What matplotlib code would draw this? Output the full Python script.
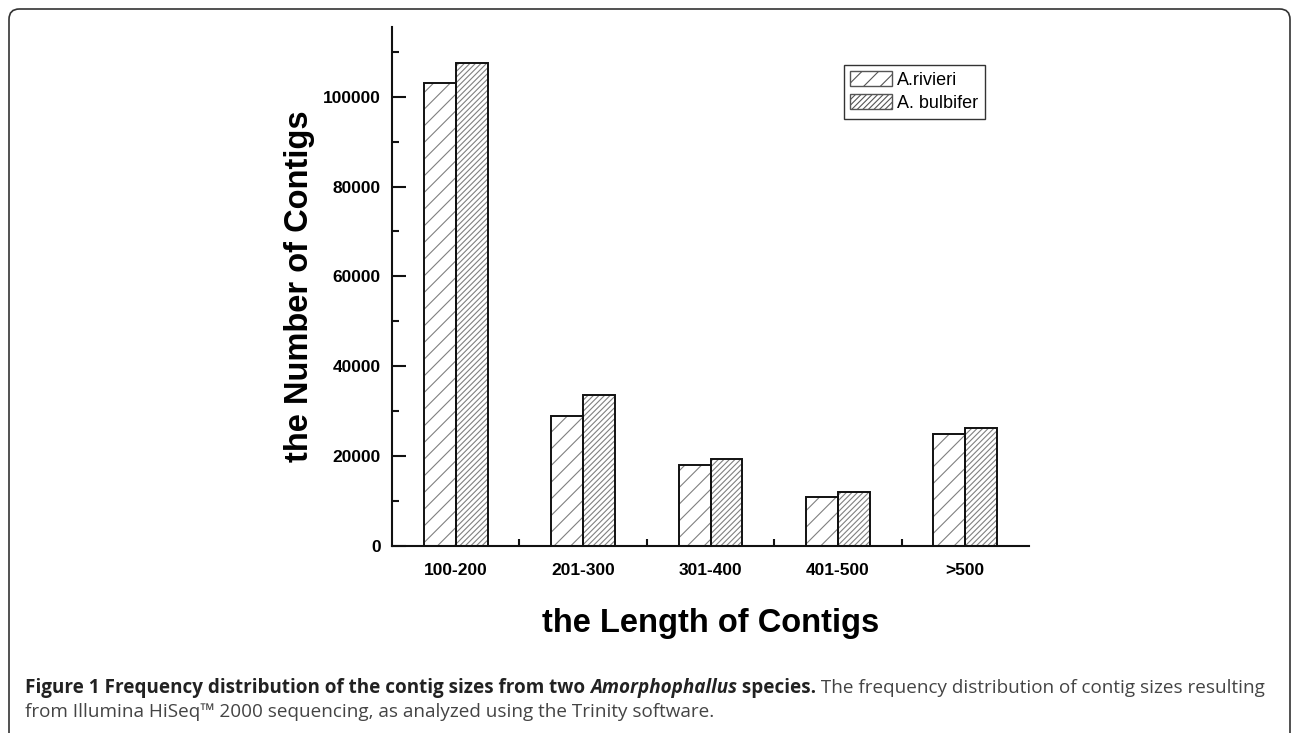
import numpy as np
import matplotlib
matplotlib.use('Agg')
import matplotlib.pyplot as plt
from matplotlib.patches import FancyBboxPatch, Patch

# 数据
categories = ['100-200', '201-300', '301-400', '401-500', '>500']
rivieri = [103000, 29000, 18000, 11000, 25000]
bulbifer = [107500, 33500, 19300, 12000, 26300]
series_names = ['A.rivieri', 'A. bulbifer']

plt.rcParams['font.family'] = ['Liberation Sans', 'DejaVu Sans']
plt.rcParams['hatch.linewidth'] = 0.8

W, H = 1292, 733
fig = plt.figure(figsize=(W / 100, H / 100), dpi=100)

# 外框
frame = FancyBboxPatch((9 / W, -10 / H), (1290 - 9) / W, (733 - 9 + 10) / H,
                       boxstyle='round,pad=0,rounding_size=0.008',
                       transform=fig.transFigure, fill=False,
                       edgecolor='#333333', linewidth=1.2, mutation_aspect=W / H)
fig.add_artist(frame)

ax = fig.add_axes([392 / W, (H - 546) / H, (1029 - 392) / W, (546 - 27) / H])

x = np.arange(len(categories))
w = 0.25
hatch_col = '#808080'
# 先画阴影线，再画黑色边框
ax.bar(x - w / 2, rivieri, w, color='white', edgecolor=hatch_col, hatch='//', linewidth=0)
ax.bar(x + w / 2, bulbifer, w, color='white', edgecolor=hatch_col, hatch='//////', linewidth=0)
ax.bar(x - w / 2, rivieri, w, fill=False, edgecolor='#111111', linewidth=1.4)
ax.bar(x + w / 2, bulbifer, w, fill=False, edgecolor='#111111', linewidth=1.4)

ax.set_xlim(-0.5, 4.5)
ax.set_ylim(0, 115500)
ax.spines['top'].set_visible(False)
ax.spines['right'].set_visible(False)
for s in ['left', 'bottom']:
    ax.spines[s].set_linewidth(1.5)
    ax.spines[s].set_color('#111111')

ax.set_yticks(np.arange(0, 100001, 20000))
ax.set_yticks(np.arange(10000, 110001, 20000), minor=True)
ax.tick_params(axis='y', which='major', direction='in', length=10, width=1.5, pad=8,
               labelsize=12.5, color='#111111')
ax.tick_params(axis='y', which='minor', direction='in', length=5, width=1.5, color='#111111')
for lab in ax.get_yticklabels():
    lab.set_fontweight('bold')

ax.set_xticks(x)
ax.set_xticklabels(categories, fontweight='bold', fontsize=12.5)
ax.set_xticks(np.arange(0.5, 4.0, 1.0), minor=True)
ax.tick_params(axis='x', which='major', length=0, pad=12)
ax.tick_params(axis='x', which='minor', direction='in', length=5, width=1.5, color='#111111')

ax.set_ylabel('the Number of Contigs', fontsize=23.5, fontweight='bold', labelpad=6)
ax.set_xlabel('the Length of Contigs', fontsize=23.5, fontweight='bold', labelpad=22)

handles = [Patch(facecolor='white', edgecolor='#555555', hatch='//', linewidth=1.0),
           Patch(facecolor='white', edgecolor='#555555', hatch='//////', linewidth=1.0)]
leg = fig.legend(handles, series_names, loc='upper left',
                 bbox_to_anchor=(844 / W, 1 - 65 / H), fontsize=13, frameon=True,
                 fancybox=False, edgecolor='#333333', framealpha=1,
                 handlelength=2.3, handleheight=0.9, handletextpad=0.3,
                 labelspacing=0.3, borderpad=0.35, borderaxespad=0)
leg.get_frame().set_linewidth(1.0)

# 图注
renderer = fig.canvas.get_renderer()
cap_font = ['Open Sans', 'DejaVu Sans']
cap_size = 13.6


def put(xpx, ypx, s, **kw):
    t = fig.text(xpx / W, 1 - ypx / H, s, fontsize=cap_size, family=cap_font,
                 va='center', ha='left', **kw)
    return xpx + t.get_window_extent(renderer).width


xp = 25
xp = put(xp, 688, 'Figure 1 Frequency distribution of the contig sizes from two ',
         fontweight='bold', color='#222222')
xp = put(xp, 688, 'Amorphophallus', fontweight='bold', style='italic', color='#222222')
xp = put(xp, 688, ' species.', fontweight='bold', color='#222222')
xp = put(xp, 688, ' The frequency distribution of contig sizes resulting', color='#444444')
put(25, 712, 'from Illumina HiSeq\u2122 2000 sequencing, as analyzed using the Trinity software.',
    color='#444444')

fig.savefig('out.png', dpi=100)
